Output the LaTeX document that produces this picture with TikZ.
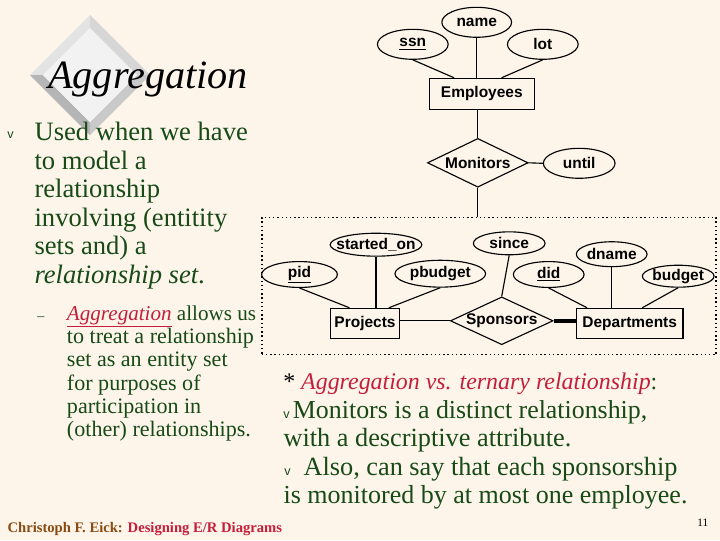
\documentclass[tikz,border=0pt]{standalone}
\usepackage{fontspec}
\setmainfont{Liberation Serif}
\newfontfamily\erfont{Liberation Sans}
\usetikzlibrary{shapes.geometric,positioning}
\definecolor{slidebg}{HTML}{FDF5EA}
\definecolor{textgreen}{HTML}{174A17}
\definecolor{textred}{HTML}{C41E3A}
\definecolor{footbrown}{HTML}{8A4B12}

\begin{document}
\begin{tikzpicture}[x=0.025cm,y=-0.025cm]
\tikzstyle{attr}=[ellipse,draw=black,line width=0.8pt,
inner xsep=-8pt,inner ysep=0pt,minimum height=21.3pt,
font=\erfont\bfseries\fontsize{11}{13}\selectfont]
\tikzstyle{entity}=[rectangle,draw=black,line width=0.8pt,
inner sep=0pt,minimum height=21.3pt,
font=\erfont\bfseries\fontsize{11}{13}\selectfont]
\tikzstyle{rel}=[diamond,draw=black,line width=0.8pt,aspect=2,
inner sep=0pt,font=\erfont\bfseries\fontsize{11}{13}\selectfont]
\tikzstyle{link}=[draw=black,line width=0.8pt]
\tikzstyle{big}=[anchor=base west,inner sep=0pt,text=textgreen,
font=\fontsize{18.7}{22}\selectfont]
\tikzstyle{sub}=[anchor=base west,inner sep=0pt,text=textgreen,
font=\fontsize{15.7}{18}\selectfont]
\tikzstyle{bul}=[anchor=base west,inner sep=0pt,text=textgreen,
font=\erfont\fontsize{9}{10}\selectfont]

\useasboundingbox (0,0) rectangle (720,540);
\fill[slidebg] (0,0) rectangle (720,540);

% title diamond
\fill[gray!32] (90,15) -- (150,75) -- (137,75) -- (90,28) -- cycle;
\fill[gray!22] (90,15) -- (30,75) -- (43,75) -- (90,28) -- cycle;
\fill[gray!58] (30,75) -- (90,135) -- (90,122) -- (43,75) -- cycle;
\fill[gray!42] (150,75) -- (90,135) -- (90,122) -- (137,75) -- cycle;
\fill[gray!10] (90,28) -- (137,75) -- (90,122) -- (43,75) -- cycle;
\node[anchor=base west,inner sep=0pt,font=\itshape\fontsize{28.6}{32}\selectfont]
 (t) at (48,88) {Aggregation};

% left text
\node[bul] (bv1) at (7,138.3) {v};
\node[big,font=\fontsize{18.9}{22}\selectfont] (u1) at (34.3,140.7) {Used when we have};
\node[big,font=\fontsize{18.9}{22}\selectfont] (u2) at (34.3,169.2) {to model a};
\node[big,font=\fontsize{18.9}{22}\selectfont] (u3) at (34.3,197.7) {relationship};
\node[big,font=\fontsize{18.9}{22}\selectfont] (u4) at (34.3,226.2) {involving (entitity};
\node[big,font=\fontsize{18.9}{22}\selectfont] (u5) at (34.3,254.7) {sets and) a};
\node[big,font=\fontsize{18.9}{22}\selectfont] (u6) at (34.3,283.2) {\textit{relationship set}.};
\node[sub,font=\fontsize{10}{12}\selectfont] (d1) at (37,320) {--};
\node[sub,font=\fontsize{15}{18}\selectfont] (a1) at (66.7,320)
 {{\color{textred}\underline{\textit{Aggregation}}} allows us};
\node[sub] (a2) at (66.7,343.3) {to treat a relationship};
\node[sub] (a3) at (66.7,366.7) {set as an entity set};
\node[sub] (a4) at (66.7,390) {for purposes of};
\node[sub] (a5) at (66.7,413.3) {participation in};
\node[sub] (a6) at (66.7,436.7) {(other) relationships.};

% right text
\node[big,font=\fontsize{17}{20}\selectfont] (r1) at (283,389.3)
 {{\color{black}*} {\color{textred}\textit{Aggregation vs. ternary relationship}}:};
\node[bul] (rv2) at (283,418.3) {v};
\node[big,font=\fontsize{18.4}{22}\selectfont] (r2) at (292.7,418.3) {Monitors is a distinct relationship,};
\node[big] (r3) at (283.3,446.7) {with a descriptive attribute.};
\node[bul] (rv4) at (284,475) {v};
\node[big] (r4) at (303.3,475) {Also, can say that each sponsorship};
\node[big,font=\fontsize{18.5}{22}\selectfont] (r5) at (283.3,503.3) {is monitored by at most one employee.};

% footer
\node[anchor=base west,inner sep=0pt,font=\bfseries\fontsize{10.4}{12}\selectfont]
 (foot) at (7.3,532)
 {{\color{footbrown}Christoph F. Eick:} {\color{textred}Designing E/R Diagrams}};
\node[anchor=base west,inner sep=0pt,font=\fontsize{8}{10}\selectfont]
 (pg) at (697,526.7) {11};

% E/R diagram
\node[attr,minimum width=49.6pt] (name) at (476.7,22.3) {name};
\node[attr,minimum width=50.3pt] (ssn) at (412.8,44.3) {\underline{ssn}};
\node[attr,minimum width=50.3pt] (lot) at (542.8,44.3) {lot};
\node[entity,minimum width=74.4pt,minimum height=22pt] (emp) at (481.8,93.8) {Employees};
\node[rel,minimum width=71.6pt,minimum height=34.7pt] (mon) at (477.8,162.8) {Monitors};
\node[attr,minimum width=51pt] (until) at (579.2,163.3) {until};

\node[draw=black,dotted,line width=1pt,inner sep=0pt,
minimum width=323.1pt,minimum height=97.8pt] (agg) at (489,286) {};

\node[attr,minimum width=65.2pt,minimum height=16.3pt] (so) at (376,244.7) {started\_on};
\node[attr,minimum width=53.9pt,minimum height=18.4pt] (pid) at (299.5,274.5) {\underline{pid}};
\node[attr,minimum width=64.5pt,minimum height=19.1pt] (pb) at (440.3,273.7) {pbudget};
\node[attr,minimum width=51pt,minimum height=16.3pt] (since) at (509.2,243.3) {since};
\node[attr,minimum width=50.3pt,minimum height=18.4pt] (did) at (548.7,274.5) {\underline{did}};
\node[attr,minimum width=50.3pt,minimum height=17.7pt] (dname) at (611.7,254.2) {dname};
\node[attr,minimum width=51pt,minimum height=15.6pt] (budget) at (678.2,276.2) {budget};
\node[entity,minimum width=49.6pt] (proj) at (365,323.3) {Projects};
\node[rel,aspect=2.2,minimum width=73pt,minimum height=34pt] (spon) at (501.7,320.8) {Sponsors};
\node[entity,minimum width=75.8pt] (dept) at (629.7,323.3) {Departments};

\path[link] (ssn.south) edge (emp.150);
\path[link] (name.south) edge (name.south |- emp.north);
\path[link] (lot.south) edge (emp.39);
\path[link] (mon.north) edge (mon.north |- emp.south);
\path[link] (mon.east) edge (until.west);
\path[link] (mon.south) edge (mon.south |- agg.north);
\path[link] (pid.south) edge (proj.135);
\path[link,line width=1.5pt] (so.south) edge (so.south |- proj.north);
\path[link] (pb.south) edge (proj.33);
\path[link] (spon.west) edge (spon.west -| proj.east);
\path[link] (since.south) edge (spon.north);
\path[link,line width=3pt] (spon.east) edge (spon.east -| dept.west);
\path[link] (did.south) edge (dept.160);
\path[link] (dname.south) edge (dname.south |- dept.north);
\path[link] (budget.south) edge (dept.51);

\end{tikzpicture}
\end{document}
